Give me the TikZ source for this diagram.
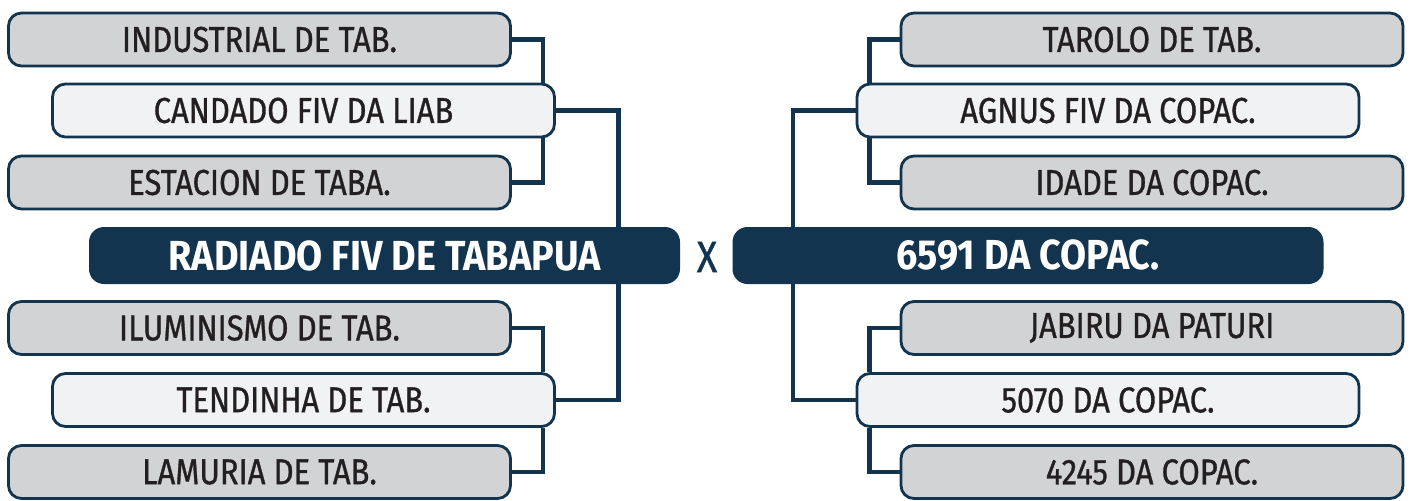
\documentclass[tikz,border=0pt]{standalone}
\usepackage{fontspec}
\setmainfont{Fira Sans}[FakeStretch=0.9]
\newfontfamily\teamfont{Fira Sans}[FakeStretch=0.86,FakeBold=0.9]
\usepackage{xcolor}
\usepackage{tikz}
\usetikzlibrary{calc}
\definecolor{navy}{HTML}{13344F}
\definecolor{boxgray}{HTML}{D1D3D4}
\definecolor{boxlight}{HTML}{F1F2F3}
\definecolor{ink}{HTML}{231F20}
\tikzstyle{team}=[draw=navy,line width=1.4pt,rounded corners=6.5pt,minimum width=251pt,minimum height=26.5pt,inner sep=0pt,text=ink,font=\teamfont\fontsize{18}{20}\selectfont]
\tikzstyle{side}=[team,fill=boxgray]
\tikzstyle{pick}=[team,fill=boxlight]
\tikzstyle{final}=[fill=navy,rounded corners=7.5pt,minimum width=295.5pt,minimum height=28.5pt,inner sep=0pt,text=white,font=\fontsize{21}{24}\selectfont\bfseries]
\tikzstyle{link}=[draw=navy,line width=2.3pt]

\begin{document}
\begin{tikzpicture}[x=.5pt,y=-.5pt]
	\useasboundingbox (0,0) rectangle (1410,500);
	% left bracket
	\node[side] (L1) at (259.5,39.5)  {INDUSTRIAL DE TAB.};
	\node[pick] (L2) at (303.5,110.5) {CANDADO FIV DA LIAB};
	\node[side] (L3) at (259.5,182.5) {ESTACION DE TABA.};
	\node[final](LF) at (384.5,255.5) {RADIADO FIV DE TABAPUA};
	\node[side] (L4) at (259.5,328)   {ILUMINISMO DE TAB.};
	\node[pick] (L5) at (303.5,400)   {TENDINHA DE TAB.};
	\node[side] (L6) at (259.5,472)   {LAMURIA DE TAB.};
	% right bracket
	\node[side] (R1) at (1152,39.5)   {TAROLO DE TAB.};
	\node[pick] (R2) at (1108,110.5)  {AGNUS FIV DA COPAC.};
	\node[side] (R3) at (1152,182.5)  {IDADE DA COPAC.};
	\node[final](RF) at (1028,255.5)  {6591 DA COPAC.};
	\node[side] (R4) at (1152,328)    {JABIRU DA PATURI};
	\node[pick] (R5) at (1108,400)    {5070 DA COPAC.};
	\node[side] (R6) at (1152,472)    {4245 DA COPAC.};
	\node[text=navy,font=\teamfont\fontsize{22}{24}\selectfont] (vs) at (707,257) {X};
	\draw[link] (L1.east) -| ([xshift=-6.5pt]L2.north east);
	\draw[link] (L3.east) -| ([xshift=-6.5pt]L2.south east);
	\draw[link] (L2.east) -| ([xshift=-31pt]LF.north east);
	\draw[link] (L4.east) -| ([xshift=-6.5pt]L5.north east);
	\draw[link] (L6.east) -| ([xshift=-6.5pt]L5.south east);
	\draw[link] (L5.east) -| ([xshift=-31pt]LF.south east);
	\draw[link] (R1.west) -| ([xshift=7pt]R2.north west);
	\draw[link] (R3.west) -| ([xshift=7pt]R2.south west);
	\draw[link] (R2.west) -| ([xshift=30.5pt]RF.north west);
	\draw[link] (R4.west) -| ([xshift=7pt]R5.north west);
	\draw[link] (R6.west) -| ([xshift=7pt]R5.south west);
	\draw[link] (R5.west) -| ([xshift=30.5pt]RF.south west);
\end{tikzpicture}
\end{document}
